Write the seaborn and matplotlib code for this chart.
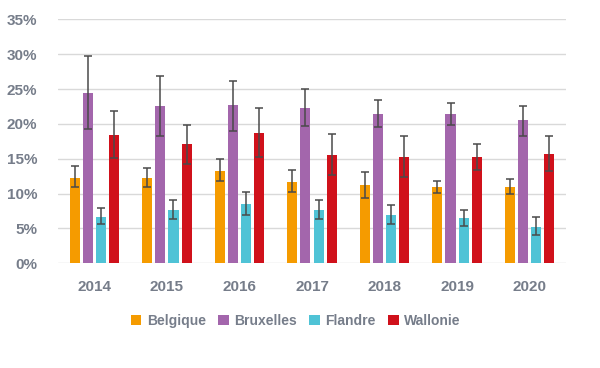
import matplotlib
matplotlib.use("Agg")
import matplotlib.pyplot as plt
import seaborn as sns
import pandas as pd
import numpy as np
from matplotlib.patches import Patch

years = ["2014", "2015", "2016", "2017", "2018", "2019", "2020"]
regions = ["Belgique", "Bruxelles", "Flandre", "Wallonie"]

belgique = [12.2, 12.2, 13.3, 11.7, 11.2, 11.0, 11.0]
bruxelles = [24.4, 22.5, 22.7, 22.3, 21.4, 21.4, 20.5]
flandre = [6.6, 7.6, 8.5, 7.7, 7.0, 6.5, 5.2]
wallonie = [18.4, 17.1, 18.7, 15.5, 15.3, 15.3, 15.7]

belgique_lo = [10.9, 10.9, 11.8, 10.2, 9.3, 10.1, 9.9]
belgique_hi = [13.9, 13.6, 14.9, 13.4, 13.1, 11.85, 12.05]
bruxelles_lo = [19.2, 18.2, 19.0, 19.7, 19.6, 19.9, 18.3]
bruxelles_hi = [29.8, 26.9, 26.2, 25.0, 23.4, 23.0, 22.6]
flandre_lo = [5.6, 6.3, 7.0, 6.4, 5.7, 5.35, 4.0]
flandre_hi = [8.0, 9.1, 10.2, 9.1, 8.4, 7.7, 6.6]
wallonie_lo = [15.1, 14.3, 15.3, 12.6, 12.4, 13.4, 13.3]
wallonie_hi = [21.9, 19.9, 22.3, 18.5, 18.3, 17.1, 18.2]

colors = ["#F59B00", "#A366AC", "#4FC3D6", "#D0111B"]

vals = {"Belgique": belgique, "Bruxelles": bruxelles, "Flandre": flandre, "Wallonie": wallonie}
los = {"Belgique": belgique_lo, "Bruxelles": bruxelles_lo, "Flandre": flandre_lo, "Wallonie": wallonie_lo}
his = {"Belgique": belgique_hi, "Bruxelles": bruxelles_hi, "Flandre": flandre_hi, "Wallonie": wallonie_hi}

rows = []
for r in regions:
    for i, y in enumerate(years):
        rows.append({"year": y, "region": r, "value": vals[r][i],
                     "lo": los[r][i], "hi": his[r][i]})
df = pd.DataFrame(rows)

sns.set_theme(style="white")
plt.rcParams["font.family"] = ["Liberation Sans", "DejaVu Sans"]

fig = plt.figure(figsize=(6.0, 3.68), dpi=100)
ax = fig.add_axes([0.097, 0.2845, 0.846, 0.663])

sns.barplot(data=df, x="year", y="value", hue="region", order=years,
            hue_order=regions, palette=colors, width=0.72, gap=0.23,
            errorbar=None, legend=False, ax=ax, saturation=1, edgecolor="none")

for k, r in enumerate(regions):
    bars = ax.containers[k]
    for i, bar in enumerate(bars):
        cx = bar.get_x() + bar.get_width() / 2
        v = vals[r][i]
        ax.errorbar([cx], [v], yerr=[[v - los[r][i]], [his[r][i] - v]],
                    fmt="none", ecolor="#4a4a4a", elinewidth=1.1,
                    capsize=3.2, capthick=1.1, zorder=5)

ax.set_ylim(0, 35)
ax.set_xlim(-0.5, len(years) - 0.5)
ax.set_yticks(np.arange(0, 36, 5))
ax.set_yticklabels([f"{t}%" for t in range(0, 36, 5)])
ax.yaxis.grid(True, color="#D9D9D9", linewidth=1)
ax.set_axisbelow(True)
for s in ax.spines.values():
    s.set_visible(False)
ax.set_xlabel("")
ax.set_ylabel("")
ax.tick_params(axis="both", length=0, labelsize=11, labelcolor="#767D8A")
ax.tick_params(axis="x", pad=12)
ax.tick_params(axis="y", pad=15)
for lab in ax.get_xticklabels() + ax.get_yticklabels():
    lab.set_fontweight("bold")

handles = [Patch(facecolor=c, edgecolor="none") for c in colors]
leg = fig.legend(handles, regions, loc="center", bbox_to_anchor=(0.493, 0.128),
                 ncol=4, frameon=False, handlelength=0.75, handleheight=0.75,
                 handletextpad=0.4, columnspacing=0.9,
                 prop={"size": 10, "weight": "bold"})
for t in leg.get_texts():
    t.set_color("#767D8A")

fig.savefig("out.png", dpi=100)
